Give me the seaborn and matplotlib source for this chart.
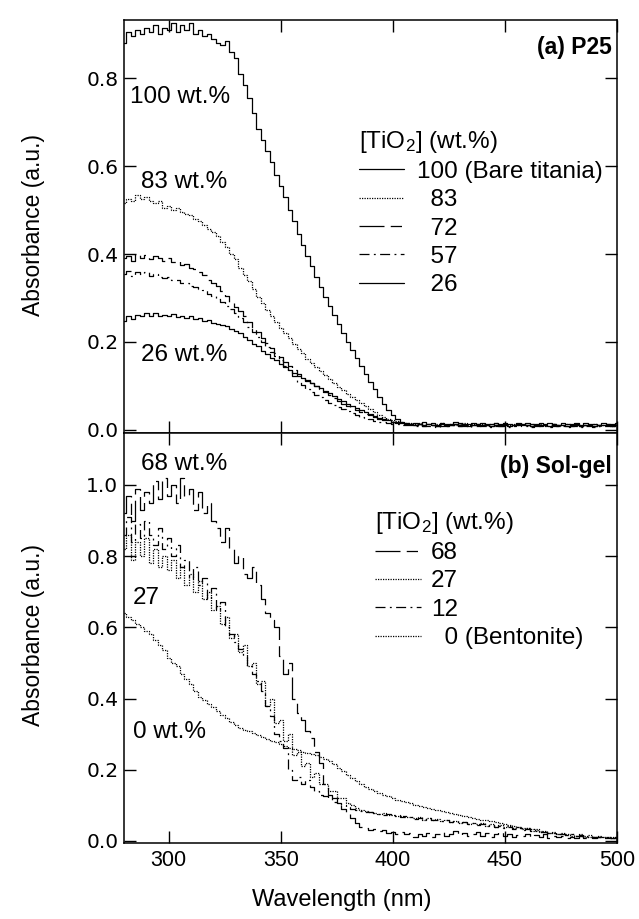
import numpy as np
import pandas as pd
import matplotlib
matplotlib.use("Agg")
import matplotlib.pyplot as plt
import seaborn as sns

# ---------------- data ----------------
wavelength = list(range(280, 501, 2))

# (a) P25
p25_100 = [0.880, 0.905, 0.895, 0.910, 0.900, 0.915, 0.905, 0.920, 0.900, 0.915,
           0.910, 0.925, 0.905, 0.920, 0.910, 0.925, 0.900, 0.910, 0.895, 0.900,
           0.890, 0.880, 0.875, 0.885, 0.860, 0.845, 0.810, 0.785, 0.755, 0.720,
           0.685, 0.660, 0.635, 0.610, 0.580, 0.555, 0.530, 0.500, 0.475, 0.445,
           0.420, 0.395, 0.372, 0.348, 0.325, 0.303, 0.282, 0.262, 0.240, 0.220,
           0.200, 0.182, 0.163, 0.145, 0.128, 0.110, 0.093, 0.076, 0.060, 0.045,
           0.033, 0.024, 0.018, 0.015, 0.014, 0.016, 0.013, 0.017, 0.014, 0.015,
           0.012, 0.016, 0.014, 0.013, 0.017, 0.015, 0.012, 0.014, 0.016, 0.013,
           0.015, 0.012, 0.014, 0.016, 0.013, 0.015, 0.014, 0.012, 0.016, 0.013,
           0.015, 0.014, 0.012, 0.015, 0.013, 0.016, 0.014, 0.012, 0.015, 0.013,
           0.014, 0.016, 0.012, 0.015, 0.013, 0.014, 0.012, 0.015, 0.013, 0.014,
           0.015]
p25_83 = [0.515, 0.525, 0.520, 0.535, 0.525, 0.530, 0.520, 0.515, 0.520, 0.505,
          0.510, 0.500, 0.505, 0.495, 0.490, 0.488, 0.480, 0.475, 0.465, 0.458,
          0.450, 0.440, 0.428, 0.415, 0.400, 0.388, 0.368, 0.352, 0.338, 0.320,
          0.302, 0.288, 0.272, 0.258, 0.245, 0.232, 0.220, 0.208, 0.196, 0.184,
          0.174, 0.162, 0.152, 0.143, 0.133, 0.124, 0.115, 0.107, 0.098, 0.090,
          0.082, 0.075, 0.068, 0.061, 0.054, 0.047, 0.041, 0.035, 0.030, 0.026,
          0.023, 0.020, 0.018, 0.016, 0.015, 0.013, 0.015, 0.012, 0.014, 0.011,
          0.013, 0.015, 0.012, 0.014, 0.011, 0.013, 0.015, 0.012, 0.013, 0.011,
          0.014, 0.012, 0.013, 0.015, 0.011, 0.013, 0.012, 0.014, 0.011, 0.013,
          0.012, 0.014, 0.011, 0.013, 0.012, 0.010, 0.013, 0.011, 0.012, 0.014,
          0.011, 0.013, 0.010, 0.012, 0.011, 0.013, 0.010, 0.012, 0.011, 0.010,
          0.012]
p25_72 = [0.390, 0.395, 0.385, 0.400, 0.392, 0.398, 0.388, 0.395, 0.390, 0.385,
          0.392, 0.382, 0.385, 0.375, 0.378, 0.368, 0.365, 0.358, 0.352, 0.342,
          0.335, 0.328, 0.315, 0.305, 0.292, 0.280, 0.270, 0.258, 0.245, 0.232,
          0.222, 0.208, 0.198, 0.186, 0.175, 0.165, 0.155, 0.146, 0.137, 0.128,
          0.121, 0.114, 0.107, 0.100, 0.094, 0.087, 0.080, 0.073, 0.066, 0.060,
          0.055, 0.050, 0.045, 0.041, 0.037, 0.033, 0.029, 0.026, 0.023, 0.020,
          0.018, 0.016, 0.015, 0.014, 0.013, 0.011, 0.013, 0.010, 0.012, 0.011,
          0.009, 0.012, 0.010, 0.011, 0.013, 0.010, 0.012, 0.009, 0.011, 0.012,
          0.010, 0.012, 0.009, 0.011, 0.010, 0.012, 0.009, 0.011, 0.013, 0.010,
          0.011, 0.009, 0.012, 0.010, 0.011, 0.009, 0.012, 0.010, 0.011, 0.009,
          0.010, 0.012, 0.009, 0.011, 0.010, 0.009, 0.011, 0.010, 0.012, 0.010,
          0.011]
p25_57 = [0.355, 0.362, 0.350, 0.360, 0.355, 0.358, 0.350, 0.355, 0.348, 0.345,
          0.348, 0.340, 0.342, 0.335, 0.333, 0.328, 0.325, 0.320, 0.318, 0.310,
          0.305, 0.298, 0.290, 0.282, 0.275, 0.265, 0.255, 0.245, 0.233, 0.222,
          0.212, 0.200, 0.188, 0.178, 0.168, 0.158, 0.145, 0.133, 0.122, 0.110,
          0.102, 0.094, 0.086, 0.080, 0.074, 0.068, 0.062, 0.057, 0.052, 0.047,
          0.042, 0.038, 0.034, 0.030, 0.027, 0.024, 0.021, 0.019, 0.017, 0.015,
          0.014, 0.013, 0.012, 0.011, 0.011, 0.009, 0.011, 0.008, 0.010, 0.009,
          0.007, 0.010, 0.008, 0.009, 0.011, 0.008, 0.010, 0.007, 0.009, 0.010,
          0.008, 0.010, 0.007, 0.009, 0.008, 0.010, 0.007, 0.009, 0.011, 0.008,
          0.009, 0.007, 0.010, 0.008, 0.009, 0.007, 0.010, 0.008, 0.009, 0.007,
          0.008, 0.010, 0.007, 0.009, 0.008, 0.007, 0.009, 0.008, 0.010, 0.008,
          0.009]
p25_26 = [0.248, 0.258, 0.252, 0.262, 0.258, 0.265, 0.258, 0.266, 0.260, 0.262,
          0.258, 0.264, 0.256, 0.260, 0.255, 0.258, 0.252, 0.255, 0.248, 0.250,
          0.244, 0.242, 0.238, 0.236, 0.230, 0.226, 0.220, 0.212, 0.205, 0.196,
          0.190, 0.180, 0.172, 0.164, 0.158, 0.150, 0.143, 0.136, 0.130, 0.123,
          0.118, 0.112, 0.106, 0.100, 0.095, 0.089, 0.083, 0.077, 0.071, 0.066,
          0.060, 0.055, 0.050, 0.045, 0.041, 0.036, 0.032, 0.028, 0.025, 0.022,
          0.019, 0.017, 0.015, 0.014, 0.013, 0.012, 0.014, 0.011, 0.013, 0.012,
          0.010, 0.013, 0.011, 0.012, 0.014, 0.011, 0.013, 0.010, 0.012, 0.013,
          0.011, 0.013, 0.010, 0.012, 0.011, 0.013, 0.010, 0.012, 0.014, 0.011,
          0.012, 0.010, 0.013, 0.011, 0.012, 0.010, 0.013, 0.011, 0.012, 0.010,
          0.011, 0.013, 0.010, 0.012, 0.011, 0.010, 0.012, 0.011, 0.013, 0.011,
          0.012]

# (b) Sol-gel
sg_68 = [0.92, 0.97, 0.90, 0.99, 0.93, 0.98, 0.95, 1.01, 0.96, 1.02,
         0.97, 1.00, 0.95, 1.02, 0.97, 0.99, 0.93, 0.98, 0.92, 0.95,
         0.90, 0.88, 0.84, 0.88, 0.82, 0.78, 0.80, 0.75, 0.74, 0.77,
         0.72, 0.68, 0.64, 0.62, 0.60, 0.52, 0.47, 0.50, 0.40, 0.36,
         0.34, 0.31, 0.29, 0.25, 0.22, 0.16, 0.13, 0.12, 0.10, 0.09,
         0.075, 0.065, 0.050, 0.040, 0.035, 0.030, 0.033, 0.028, 0.030, 0.022,
         0.025, 0.020, 0.026, 0.018, 0.022, 0.012, 0.020, 0.015, 0.022, 0.010,
         0.018, 0.024, 0.014, 0.020, 0.027, 0.016, 0.022, 0.013, 0.019, 0.025,
         0.015, 0.021, 0.012, 0.018, 0.024, 0.014, 0.020, 0.011, 0.017, 0.013,
         0.019, 0.010, 0.016, 0.012, 0.018, 0.009, 0.014, 0.011, 0.015, 0.008,
         0.012, 0.009, 0.013, 0.008, 0.011, 0.007, 0.010, 0.008, 0.009, 0.007,
         0.008]
sg_27 = [0.82, 0.86, 0.79, 0.84, 0.80, 0.85, 0.78, 0.82, 0.77, 0.80,
         0.76, 0.79, 0.74, 0.77, 0.72, 0.75, 0.70, 0.73, 0.68, 0.70,
         0.65, 0.66, 0.61, 0.63, 0.57, 0.58, 0.53, 0.55, 0.49, 0.50,
         0.44, 0.45, 0.38, 0.40, 0.33, 0.34, 0.28, 0.30, 0.24, 0.25,
         0.21, 0.22, 0.18, 0.19, 0.16, 0.16, 0.14, 0.14, 0.12, 0.12,
         0.105, 0.100, 0.092, 0.088, 0.084, 0.080, 0.078, 0.075, 0.077, 0.072,
         0.074, 0.069, 0.071, 0.066, 0.068, 0.063, 0.066, 0.060, 0.063, 0.058,
         0.061, 0.055, 0.059, 0.053, 0.056, 0.050, 0.054, 0.048, 0.051, 0.046,
         0.049, 0.043, 0.046, 0.040, 0.044, 0.038, 0.041, 0.035, 0.038, 0.032,
         0.035, 0.029, 0.032, 0.026, 0.029, 0.023, 0.026, 0.020, 0.023, 0.018,
         0.020, 0.015, 0.018, 0.013, 0.016, 0.011, 0.014, 0.010, 0.012, 0.009,
         0.010]
sg_12 = [0.86, 0.91, 0.84, 0.89, 0.85, 0.90, 0.86, 0.83, 0.88, 0.82,
         0.85, 0.80, 0.83, 0.77, 0.79, 0.74, 0.77, 0.72, 0.74, 0.68,
         0.71, 0.65, 0.67, 0.60, 0.58, 0.56, 0.54, 0.52, 0.49, 0.47,
         0.45, 0.42, 0.38, 0.35, 0.30, 0.28, 0.26, 0.20, 0.17, 0.18,
         0.16, 0.17, 0.15, 0.14, 0.13, 0.125, 0.12, 0.11, 0.105, 0.10,
         0.095, 0.090, 0.088, 0.085, 0.082, 0.080, 0.078, 0.075, 0.073, 0.075,
         0.070, 0.072, 0.068, 0.070, 0.066, 0.062, 0.065, 0.060, 0.063, 0.058,
         0.060, 0.055, 0.058, 0.052, 0.055, 0.050, 0.053, 0.047, 0.050, 0.045,
         0.047, 0.042, 0.044, 0.039, 0.042, 0.036, 0.039, 0.033, 0.036, 0.030,
         0.032, 0.027, 0.029, 0.024, 0.026, 0.021, 0.023, 0.018, 0.020, 0.016,
         0.018, 0.013, 0.016, 0.011, 0.014, 0.010, 0.012, 0.009, 0.011, 0.008,
         0.009]
sg_0 = [0.640, 0.630, 0.620, 0.610, 0.600, 0.590, 0.580, 0.565, 0.550, 0.535,
        0.515, 0.500, 0.490, 0.470, 0.455, 0.440, 0.420, 0.405, 0.395, 0.385,
        0.375, 0.365, 0.355, 0.345, 0.335, 0.325, 0.318, 0.312, 0.308, 0.302,
        0.297, 0.292, 0.287, 0.282, 0.277, 0.272, 0.267, 0.262, 0.258, 0.254,
        0.250, 0.247, 0.244, 0.240, 0.236, 0.230, 0.224, 0.216, 0.206, 0.196,
        0.186, 0.176, 0.168, 0.160, 0.152, 0.146, 0.140, 0.135, 0.130, 0.125,
        0.120, 0.116, 0.112, 0.108, 0.105, 0.102, 0.099, 0.096, 0.093, 0.090,
        0.087, 0.084, 0.082, 0.079, 0.076, 0.073, 0.070, 0.067, 0.065, 0.062,
        0.060, 0.058, 0.056, 0.054, 0.051, 0.048, 0.045, 0.043, 0.040, 0.037,
        0.035, 0.033, 0.030, 0.028, 0.025, 0.023, 0.021, 0.019, 0.018, 0.016,
        0.015, 0.014, 0.013, 0.012, 0.012, 0.011, 0.011, 0.010, 0.010, 0.010,
        0.010]

top_labels = ["100 (Bare titania)", "  83", "  72", "  57", "  26"]
bot_labels = ["68", "27", "12", "  0 (Bentonite)"]
x_ticks = [300, 350, 400, 450, 500]
top_yticks = [0.0, 0.2, 0.4, 0.6, 0.8]
bot_yticks = [0.0, 0.2, 0.4, 0.6, 0.8, 1.0]

# ---------------- style ----------------
sns.set_style("ticks")
plt.rcParams["font.family"] = ["Liberation Sans", "DejaVu Sans"]
plt.rcParams["mathtext.fontset"] = "custom"
plt.rcParams["mathtext.rm"] = "Liberation Sans"
plt.rcParams["mathtext.it"] = "Liberation Sans:italic"
for key in ("text.color", "axes.labelcolor", "xtick.color", "ytick.color",
            "axes.edgecolor"):
    plt.rcParams[key] = "black"

SOLID = "-"
DOT = (0, (1.0, 1.0))
LDASH = (0, (20, 5, 9, 5))
DASHDOT = (0, (8, 3.5, 1.5, 3.5))
LW = 0.9

fig = plt.figure(figsize=(6.39, 9.19), dpi=100)
ax1 = fig.add_axes([0.194, 0.5288, 0.7715, 0.4494])
ax2 = fig.add_axes([0.194, 0.0827, 0.7715, 0.4461])

def draw(ax, values, ls, label):
    sns.lineplot(x=wavelength, y=values, ax=ax, color="black", lw=LW,
                 linestyle=ls, drawstyle="steps-mid", errorbar=None,
                 label=label, legend=False)

top_series = [p25_100, p25_83, p25_72, p25_57, p25_26]
top_styles = [SOLID, DOT, LDASH, DASHDOT, SOLID]
for vals, ls, lab in zip(top_series, top_styles, top_labels):
    draw(ax1, vals, ls, lab)

bot_series = [sg_68, sg_27, sg_12, sg_0]
bot_styles = [LDASH, DOT, DASHDOT, DOT]
for vals, ls, lab in zip(bot_series, bot_styles, bot_labels):
    draw(ax2, vals, ls, lab)

for ax in (ax1, ax2):
    ax.set_xlim(280, 500)
    ax.set_xticks(x_ticks)
    ax.tick_params(direction="in", top=True, right=True, length=8.5,
                   width=1.0, color="black", labelcolor="black",
                   labelsize=15.5, pad=5)
    for sp in ax.spines.values():
        sp.set_linewidth(1.1)
        sp.set_color("black")
    ax.set_xlabel("")
    ax.set_ylabel("")

ax1.set_ylim(-0.007, 0.932)
ax1.set_yticks(top_yticks)
ax1.set_yticklabels([f"{v:.1f}" for v in top_yticks])
ax1.tick_params(axis="x", labelbottom=False)
ax2.set_ylim(-0.006, 1.146)
ax2.set_yticks(bot_yticks)
ax2.set_yticklabels([f"{v:.1f}" for v in bot_yticks])
ax2.set_xticklabels([str(v) for v in x_ticks])

for ax in (ax1, ax2):
    ax.tick_params(axis="y", pad=4)
    for lbl in ax.get_yticklabels():
        lbl.set_fontfamily("DejaVu Sans")
        lbl.set_fontsize(14.5)
        lbl.set_color("black")
    for lbl in ax.get_xticklabels():
        lbl.set_color("black")

FS = 17.5
# annotations, panel a
ax1.text(282.7, 0.757, "100 wt.%", fontsize=FS, ha="left", va="center")
ax1.text(287.6, 0.564, "83 wt.%", fontsize=FS, ha="left", va="center")
ax1.text(287.6, 0.170, "26 wt.%", fontsize=FS, ha="left", va="center")
ax1.text(497.5, 0.870, "(a) P25", fontsize=16.5, fontweight="bold", ha="right", va="center")
# annotations, panel b
ax2.text(287.6, 1.059, "68 wt.%", fontsize=FS, ha="left", va="center")
ax2.text(284.0, 0.683, "27", fontsize=FS, ha="left", va="center")
ax2.text(284.0, 0.306, "0 wt.%", fontsize=FS, ha="left", va="center")
ax2.text(497.5, 1.051, "(b) Sol-gel", fontsize=16.5, fontweight="bold", ha="right", va="center")

title = "[TiO$_2$] (wt.%)"
h1, l1 = ax1.get_legend_handles_labels()
leg1 = ax1.legend(h1, l1, title=title, loc="upper left",
                  bbox_to_anchor=(0.477, 0.737), frameon=False, fontsize=FS,
                  title_fontsize=FS, handlelength=1.85, handletextpad=0.52,
                  labelspacing=0.26, borderpad=0, borderaxespad=0,
                  alignment="left")
h2, l2 = ax2.get_legend_handles_labels()
leg2 = ax2.legend(h2, l2, title=title, loc="upper left",
                  bbox_to_anchor=(0.509, 0.813), frameon=False, fontsize=FS,
                  title_fontsize=FS, handlelength=1.9, handletextpad=0.4,
                  labelspacing=0.26, borderpad=0, borderaxespad=0,
                  alignment="left")

fig.text(0.052, 0.755, "Absorbance (a.u.)", rotation=90, fontsize=16.5,
         ha="center", va="center")
fig.text(0.052, 0.309, "Absorbance (a.u.)", rotation=90, fontsize=16.5,
         ha="center", va="center")
fig.text(0.535, 0.0207, "Wavelength (nm)", fontsize=17, ha="center", va="center")

fig.savefig("out.png", dpi=100)
